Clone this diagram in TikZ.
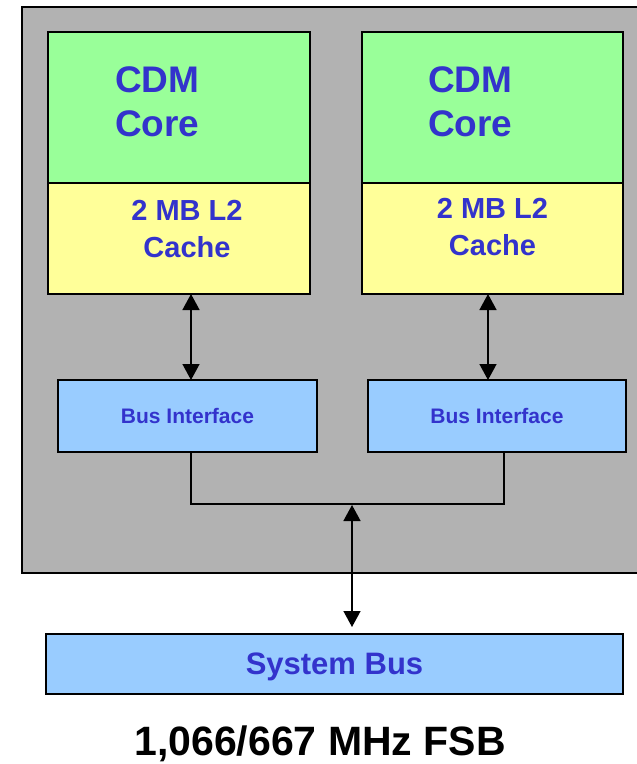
\documentclass[tikz,border=0pt]{standalone}
\usepackage{fontspec}
\setmainfont{Liberation Sans}
\usetikzlibrary{positioning, arrows.meta}
\definecolor{chipgray}{HTML}{B2B2B2}
\definecolor{coregreen}{HTML}{99FF99}
\definecolor{cacheyellow}{HTML}{FFFF99}
\definecolor{busblue}{HTML}{99CCFF}
\definecolor{labelblue}{HTML}{3333CC}
\tikzset{
box/.style={draw, line width=1.5pt, outer sep=0pt, inner sep=0pt, anchor=north west}, % every block of the diagram
chip/.style={box, fill=chipgray, minimum width=625pt, minimum height=566pt}, % the processor package
core/.style={box, fill=coregreen, minimum width=262pt, minimum height=151pt}, % upper part of a core
cache/.style={box, fill=cacheyellow, minimum width=262pt, minimum height=111pt}, % the L2 under it
busif/.style={box, fill=busblue, minimum width=259pt, minimum height=72pt, text=labelblue, font=\bfseries\fontsize{21}{25}\selectfont},
sysbus/.style={box, fill=busblue, minimum width=577pt, minimum height=60pt, text depth=0pt, text=labelblue, font=\bfseries\fontsize{31}{37}\selectfont},
coretext/.style={text=labelblue, font=\bfseries\fontsize{37}{44}\selectfont, align=left, inner sep=0pt, anchor=west},
cachetext/.style={text=labelblue, font=\bfseries\fontsize{29}{37}\selectfont, align=center, inner sep=0pt},
link/.style={{Triangle[length=16pt,width=17pt]}-{Triangle[length=16pt,width=17pt]}, line width=1.5pt}, % two way connector
wire/.style={line width=1.5pt}, % plain bus line
}

\begin{document}
\begin{tikzpicture}[x=1pt, y=-1pt]
    \clip (0,0) rectangle (637,764);
    \node[chip] (chip) at (22,7) {};
    % the two cores
    \node[core] (core1) at (48,32) {};
    \node[cache] (cache1) at (48,183) {};
    \node[core, minimum width=261pt] (core2) at (362,32) {};
    \node[cache, minimum width=261pt] (cache2) at (362,183) {};
    \node[coretext] (cdm1) at (115,102) {CDM\\Core};
    \node[coretext] (cdm2) at (428,102) {CDM\\Core};
    \node[cachetext] (l2a) at ([xshift=8pt, yshift=9pt]cache1.center) {2 MB L2\\Cache};
    \node[cachetext] (l2b) at ([yshift=11pt]cache2.center) {2 MB L2\\Cache};
    % bus interfaces
    \node[busif] (bus1) at (58,380) {Bus Interface};
    \node[busif, minimum width=258pt] (bus2) at (368,380) {Bus Interface};
    \node[sysbus] (sys) at (46,634) {System Bus};
    \node[anchor=base, inner sep=0pt, font=\bfseries\fontsize{41}{49}\selectfont] (fsb) at (320,755) {1,066/667 MHz FSB};
    \coordinate (joinL) at ([xshift=133pt]bus1.south west |- 0,504);
    \coordinate (joinR) at ([xshift=136pt]bus2.south west |- 0,504);
    \coordinate (joinM) at (352,504);
    \draw[link] ([xshift=143pt]cache1.south west) -- ([xshift=143pt]cache1.south west |- bus1.north);
    \draw[link] ([xshift=126pt]cache2.south west) -- ([xshift=126pt]cache2.south west |- bus2.north);
    \draw[wire] (joinL |- bus1.south) -- (joinL) -- (joinR) -- (joinR |- bus2.south);
    \draw[link, shorten >=7pt, shorten <=1pt] (joinM) -- (joinM |- sys.north);
\end{tikzpicture}
\end{document}
